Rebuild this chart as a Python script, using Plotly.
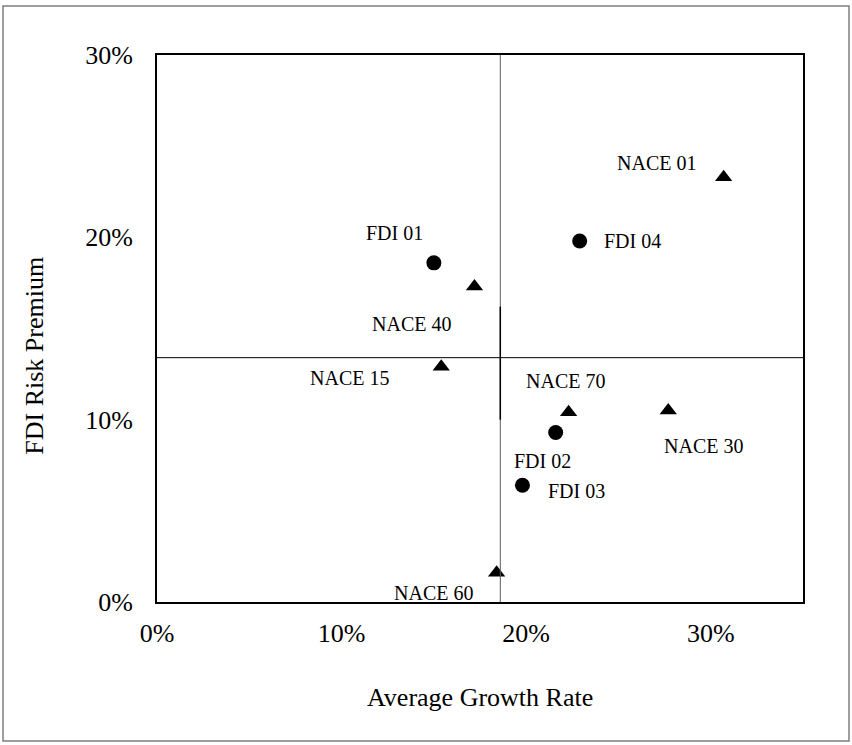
import plotly.graph_objects as go

# ---- data (fractions) ----
fdi_names = ["FDI 01", "FDI 02", "FDI 03", "FDI 04"]
fdi_growth = [0.150, 0.216, 0.198, 0.229]
fdi_premium = [0.186, 0.093, 0.064, 0.198]

nace_names = ["NACE 01", "NACE 15", "NACE 30", "NACE 40", "NACE 60", "NACE 70"]
nace_growth = [0.307, 0.154, 0.277, 0.172, 0.184, 0.223]
nace_premium = [0.233, 0.129, 0.105, 0.173, 0.016, 0.104]

x_ticks = [0, 0.1, 0.2, 0.3]
x_tick_text = ["0%", "10%", "20%", "30%"]
y_ticks = [0, 0.1, 0.2, 0.3]
y_tick_text = ["0%", "10%", "20%", "30%"]

quad_x = 0.186   # vertical divider (average growth)
quad_y = 0.134   # horizontal divider (average premium)

# label offsets in pixels (dx right, dy up)
label_offsets = {
    "FDI 01": (-39, 30), "FDI 02": (-13, -29), "FDI 03": (54, -6), "FDI 04": (53, 0),
    "NACE 01": (-67, 14), "NACE 15": (-92, -11), "NACE 30": (35, -35),
    "NACE 40": (-63, -37), "NACE 60": (-63, -20), "NACE 70": (-3, 31),
}

FONT = "Liberation Serif, Times New Roman, serif"

fig = go.Figure()
fig.add_trace(go.Scatter(
    x=fdi_growth, y=fdi_premium, mode="markers", name="FDI",
    marker=dict(symbol="circle", size=15, color="black"),
    hoverinfo="skip"))
fig.add_trace(go.Scatter(
    x=nace_growth, y=nace_premium, mode="markers", name="NACE",
    marker=dict(symbol="triangle-up", size=15, color="black"),
    hoverinfo="skip"))

annotations = []
for names, xs, ys in [(fdi_names, fdi_growth, fdi_premium),
                      (nace_names, nace_growth, nace_premium)]:
    for n, xv, yv in zip(names, xs, ys):
        dx, dy = label_offsets[n]
        annotations.append(dict(
            x=xv, y=yv, xref="x", yref="y", text=n, showarrow=False,
            xshift=dx, yshift=dy, xanchor="center", yanchor="middle",
            font=dict(family=FONT, size=20, color="black")))

# axis titles
annotations.append(dict(
    x=0.5, y=-0.174, xref="paper", yref="paper", text="Average Growth Rate",
    showarrow=False, xanchor="center", yanchor="middle",
    font=dict(family=FONT, size=26, color="black")))
annotations.append(dict(
    x=-0.189, y=0.45, xref="paper", yref="paper", text="FDI Risk Premium",
    showarrow=False, xanchor="center", yanchor="middle", textangle=-90,
    font=dict(family=FONT, size=26, color="black")))

shapes = [
    # quadrant lines
    dict(type="line", xref="x", yref="y", x0=quad_x, x1=quad_x, y0=0, y1=0.30,
         line=dict(color="#5a5a5a", width=1)),
    dict(type="line", xref="x", yref="y", x0=quad_x, x1=quad_x, y0=0.100, y1=0.162,
         line=dict(color="black", width=1.5)),
    dict(type="line", xref="x", yref="y", x0=0, x1=0.35, y0=quad_y, y1=quad_y,
         line=dict(color="black", width=1)),
    # outer chart border
    dict(type="rect", xref="paper", yref="paper",
         x0=(3 - 157) / 646, x1=(849 - 157) / 646,
         y0=(602 - 741) / 547, y1=(602 - 6) / 547,
         line=dict(color="#7f7f7f", width=1.5), layer="below"),
]

fig.update_layout(
    width=852, height=745,
    margin=dict(l=157, r=49, t=55, b=143),
    paper_bgcolor="white", plot_bgcolor="white",
    showlegend=False,
    font=dict(family=FONT, color="black"),
    annotations=annotations, shapes=shapes,
    xaxis=dict(range=[0, 0.35], tickvals=x_ticks, ticktext=x_tick_text,
               showgrid=False, zeroline=False, showline=True, mirror=True,
               linecolor="black", linewidth=2, ticks="",
               tickfont=dict(family=FONT, size=26, color="black"),
               ticklabelstandoff=7),
    yaxis=dict(range=[0, 0.30], tickvals=y_ticks, ticktext=y_tick_text,
               showgrid=False, zeroline=False, showline=True, mirror=True,
               linecolor="black", linewidth=2, ticks="",
               tickfont=dict(family=FONT, size=26, color="black"),
               ticklabelstandoff=17),
)

fig.write_html(
    "out.html",
    config={"displayModeBar": False},
    post_script="document.body.style.margin='0px';document.body.style.overflow='hidden';",
)
